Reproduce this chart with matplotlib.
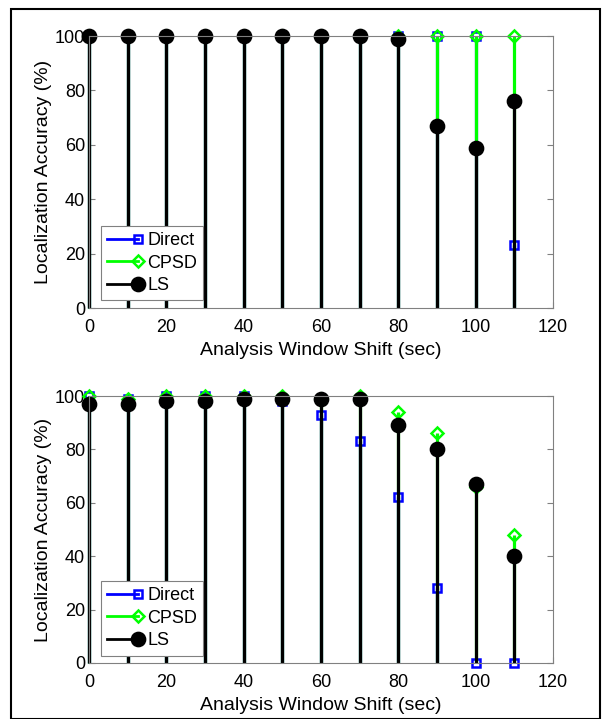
import matplotlib
matplotlib.use("Agg")
from matplotlib import pyplot as plt
from matplotlib.patches import Rectangle
from matplotlib.lines import Line2D
from matplotlib.legend_handler import HandlerLine2D

plt.rcParams['font.family'] = ['Liberation Sans', 'DejaVu Sans']

shift = [0, 10, 20, 30, 40, 50, 60, 70, 80, 90, 100, 110]

top_direct = [100, 100, 100, 100, 100, 100, 100, 100, 100, 100, 100, 23]
top_cpsd = [100, 100, 100, 100, 100, 100, 100, 100, 100, 100, 100, 100]
top_ls = [100, 100, 100, 100, 100, 100, 100, 100, 99, 67, 59, 76]

bot_direct = [100, 99, 100, 100, 100, 98, 93, 83, 62, 28, 0, 0]
bot_cpsd = [100, 99, 100, 100, 100, 100, 99, 100, 94, 86, 66, 48]
bot_ls = [97, 97, 98, 98, 99, 99, 99, 99, 89, 80, 67, 40]

series_style = [
    ('Direct', '#0000ff', 's', 6, 'none'),
    ('CPSD', '#00ff00', 'D', 6.5, 'none'),
    ('LS', 'black', 'o', 9.5, 'black'),
]


# legend marker sits at the right end of the line, like matlab stem legends
class EndMarker(HandlerLine2D):
    def create_artists(self, *args, **kwargs):
        arts = super().create_artists(*args, **kwargs)
        for a in arts:
            a.set_markevery([2])
        return arts


fig = plt.figure(figsize=(6.1, 7.19), dpi=100)
fig.patches.append(Rectangle((0.018, 0.0), 0.966, 0.988, transform=fig.transFigure,
                             fill=False, edgecolor='black', linewidth=1.5))

positions = [[0.146, 0.5716, 0.7607, 0.3783], [0.146, 0.0779, 0.7607, 0.3713]]
datasets = [(top_direct, top_cpsd, top_ls), (bot_direct, bot_cpsd, bot_ls)]

for pos, data in zip(positions, datasets):
    ax = fig.add_axes(pos)
    for (name, color, marker, ms, mfc), vals in zip(series_style, data):
        ml, sl, bl = ax.stem(shift, vals, basefmt=' ')
        plt.setp(sl, color=color, linewidth=2.3)
        plt.setp(ml, color=color, marker=marker, markersize=ms,
                 markerfacecolor=mfc, markeredgewidth=1.8, clip_on=False)
        sl.set_clip_on(False)
    ax.set_xlim(0, 120)
    ax.set_ylim(0, 100)
    ax.set_xticks(range(0, 121, 20))
    ax.set_yticks(range(0, 101, 20))
    ax.tick_params(direction='in', labelsize=13, length=4, color='#808080',
                   top=False, right=True)
    ax.tick_params(axis='x', pad=8)
    ax.tick_params(axis='y', pad=3)
    for s in ax.spines.values():
        s.set_color('#808080')
        s.set_linewidth(0.8)
    ax.set_xlabel('Analysis Window Shift (sec)', fontsize=14, labelpad=4)
    ax.set_ylabel('Localization Accuracy (%)', fontsize=14, labelpad=2)
    leg_handles = [Line2D([0], [0], color=c, linewidth=2, marker=m, markersize=ms,
                          markerfacecolor=f, markeredgewidth=1.8)
                   for (n, c, m, ms, f) in series_style]
    leg = ax.legend(leg_handles, [s[0] for s in series_style], loc='lower left',
                    bbox_to_anchor=(0.026, 0.028), fontsize=13, fancybox=False,
                    handlelength=1.7, borderpad=0.35, labelspacing=0.3,
                    handletextpad=0.5, borderaxespad=0, framealpha=1,
                    numpoints=1, handler_map={Line2D: EndMarker()})
    leg.get_frame().set_edgecolor('#808080')
    leg.get_frame().set_linewidth(0.8)

fig.savefig('out.png', dpi=100)
